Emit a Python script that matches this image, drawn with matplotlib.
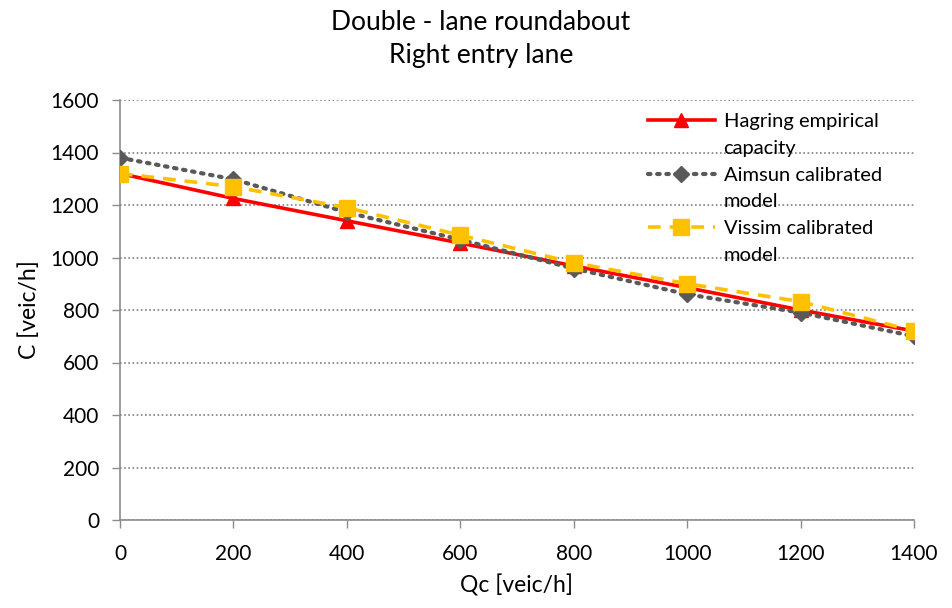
import matplotlib
matplotlib.use("Agg")
import matplotlib.pyplot as plt
from matplotlib.lines import Line2D

plt.rcParams['font.family'] = ['Lato', 'DejaVu Sans']

qc = [0, 200, 400, 600, 800, 1000, 1200, 1400]
hagring = [1320, 1225, 1140, 1055, 968, 885, 800, 720]
aimsun = [1380, 1298, 1172, 1068, 958, 860, 790, 700]
vissim = [1320, 1270, 1190, 1085, 980, 900, 832, 720]

series_labels = [("Hagring empirical", "capacity"),
                 ("Aimsun calibrated", "model"),
                 ("Vissim calibrated", "model")]
x_ticks = [0, 200, 400, 600, 800, 1000, 1200, 1400]
y_ticks = [0, 200, 400, 600, 800, 1000, 1200, 1400, 1600]

fig = plt.figure(figsize=(9.52, 6.08), dpi=100)
ax = fig.add_axes([120 / 952, 1 - 520 / 608, (914 - 120) / 952, 420 / 608])

l1, = ax.plot(qc, hagring, color="#FF0000", lw=2.6, marker="^", ms=10,
              markeredgecolor="#FF0000", zorder=3)
l2, = ax.plot(qc, aimsun, color="#595959", lw=3, linestyle=(0, (0.6, 1.6)),
              dash_capstyle="round", marker="D", ms=8.5,
              markeredgecolor="#595959", zorder=4)
l3, = ax.plot(qc, vissim, color="#FFC000", lw=2.6, linestyle=(0, (3.5, 2.5)),
              marker="s", ms=11, markeredgecolor="#FFC000", zorder=5)

ax.set_xlim(0, 1400)
ax.set_ylim(0, 1600)
ax.set_xticks(x_ticks)
ax.set_yticks(y_ticks)
ax.tick_params(axis="both", labelsize=15, length=6, width=1,
               color="#8C8C8C", direction="out")
ax.tick_params(axis="y", pad=9)
ax.tick_params(axis="x", pad=11)
ax.yaxis.grid(True, linestyle=(0, (1, 1.5)), color="#808080", lw=1.2)
ax.set_axisbelow(True)
for side in ("top", "right"):
    ax.spines[side].set_visible(False)
for side in ("left", "bottom"):
    ax.spines[side].set_color("#8C8C8C")
    ax.spines[side].set_linewidth(1.2)

ax.set_xlabel("Qc [veic/h]", fontsize=16.5, labelpad=8)
ax.set_ylabel("C [veic/h]", fontsize=16.5, labelpad=8)
fig.text(0.505, 1 - 39 / 608, "Double - lane roundabout\nRight entry lane",
         ha="center", va="center", fontsize=19, linespacing=1.45)

# legend: each series takes two text rows, the handle sits on the first one
blank = Line2D([], [], linestyle="none")
handles, labels = [], []
for line, (first, second) in zip((l1, l2, l3), series_labels):
    handles += [line, blank]
    labels += [first, second]
ax.legend(handles, labels, loc="upper left",
          bbox_to_anchor=((640 - 120) / 794, 1 - 5 / 420),
          frameon=False, fontsize=14.5, handlelength=3.3,
          labelspacing=0.48, handletextpad=0.45, borderaxespad=0)

fig.savefig("out.png", dpi=100)
